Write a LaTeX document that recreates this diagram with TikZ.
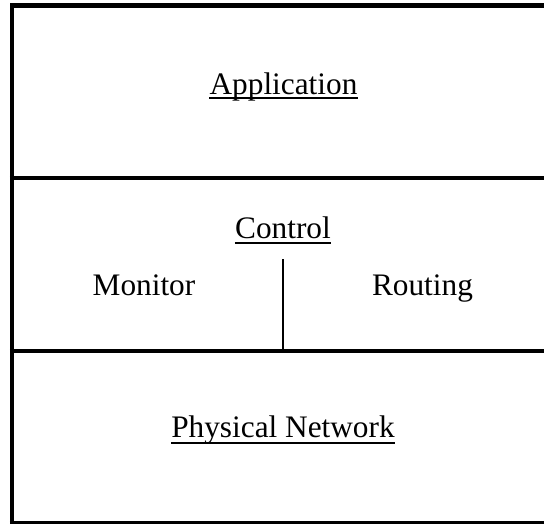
\documentclass[tikz,border=0pt]{standalone}
\usepackage{fontspec}
\setmainfont{Liberation Serif}
\usetikzlibrary{calc}
\tikzset{
  frame/.style={line width=4.5pt, line cap=butt},
  divider/.style={line width=1.4pt},
  layertext/.style={inner sep=0pt, anchor=base, font=\fontsize{31.3}{36}\selectfont},
  uline/.style={line width=2pt}
}
% underline below a title node, #2 = distance below its baseline
\newcommand{\underlinenode}[2]{%
  \draw[uline] ($(#1.base west)+(0,#2)$) -- ($(#1.base east)+(0,#2)$);}
\begin{document}
\begin{tikzpicture}[x=1pt,y=-1pt]
  \useasboundingbox (0,0) rectangle (544,524);
  \clip (0,0) rectangle (544,524);

  % outer frame (open towards the right and bottom edges)
  \draw[frame] (12,560) -- (12,5.5) -- (600,5.5);
  % layer separators
  \draw[frame] (9.75,178) -- (600,178);
  \draw[frame] (9.75,351) -- (600,351);
  \draw[frame] (9.75,523) -- (600,523);

  % layer titles
  \node[layertext] (app)  at (283.5,95)  {Application};
  \node[layertext] (ctrl) at (283,238.5) {Control};
  \node[layertext] (mon)  at (144,295)   {Monitor};
  \node[layertext] (rout) at (422.5,295) {Routing};
  \node[layertext] (phys) at (283,437.5) {Physical Network};

  \underlinenode{app}{3.5}
  \underlinenode{ctrl}{4.5}
  \underlinenode{phys}{5}

  % split between Monitor and Routing
  \coordinate (splittop) at (283,259);
  \coordinate (splitbot) at (283,351);
  \draw[divider] (splittop) -- (splitbot);
\end{tikzpicture}
\end{document}
